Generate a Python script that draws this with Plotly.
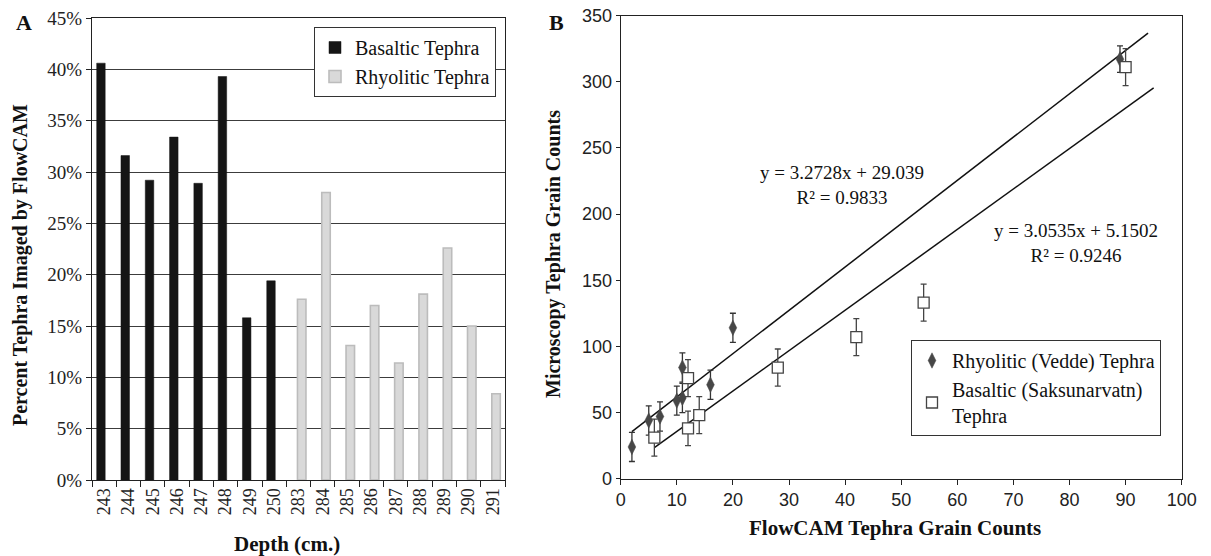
import plotly.graph_objects as go

# ---------------- Panel A data ----------------
depth_all = ["243", "244", "245", "246", "247", "248", "249", "250",
             "283", "284", "285", "286", "287", "288", "289", "290", "291"]
basaltic_depth = ["243", "244", "245", "246", "247", "248", "249", "250"]
basaltic_pct = [40.6, 31.6, 29.2, 33.4, 28.9, 39.3, 15.8, 19.4]
rhyolitic_depth = ["283", "284", "285", "286", "287", "288", "289", "290", "291"]
rhyolitic_pct = [17.6, 28.0, 13.1, 17.0, 11.4, 18.1, 22.6, 15.0, 8.4]
pct_ticks = [0, 5, 10, 15, 20, 25, 30, 35, 40, 45]
pct_labels = ["0%", "5%", "10%", "15%", "20%", "25%", "30%", "35%", "40%", "45%"]

# ---------------- Panel B data ----------------
rhy_flowcam = [2, 5, 7, 10, 11, 11, 16, 20, 89]
rhy_micro = [24, 44, 47, 59, 61, 84, 71, 114, 317]
rhy_err = [11, 11, 11, 11, 11, 11, 11, 11, 10]
bas_flowcam = [6, 12, 12, 14, 28, 42, 54, 90]
bas_micro = [31, 38, 76, 48, 84, 107, 133, 311]
bas_err = [14, 13, 14, 14, 14, 14, 14, 14]
rhy_fit = {"slope": 3.2728, "intercept": 29.039, "x": [2, 94]}
bas_fit = {"slope": 3.0535, "intercept": 5.1502, "x": [6, 95]}
rhy_fit_label = "y = 3.2728x + 29.039<br>R² = 0.9833"
bas_fit_label = "y = 3.0535x + 5.1502<br>R² = 0.9246"

SERIF = "Liberation Serif"
SANS = "Liberation Sans"
OFF = 8                      # page body margin
W, H = 1211 - OFF, 556 - OFF


def px_x(p):
    return (p - OFF) / W


def px_y(p):
    return 1 - (p - OFF) / H


fig = go.Figure()

# Bars (panel A)
fig.add_trace(go.Bar(
    x=basaltic_depth, y=basaltic_pct, name="Basaltic Tephra",
    width=0.35, offset=-0.307,
    marker=dict(color="#151515", line=dict(color="#151515", width=0.5)),
    xaxis="x", yaxis="y", legend="legend"))
fig.add_trace(go.Bar(
    x=rhyolitic_depth, y=rhyolitic_pct, name="Rhyolitic Tephra",
    width=0.35, offset=-0.043,
    marker=dict(color="#d9d9d9", line=dict(color="#bcbcbc", width=1.6)),
    xaxis="x", yaxis="y", legend="legend"))

# Trend lines (panel B)
for fit in (rhy_fit, bas_fit):
    xs = fit["x"]
    ys = [fit["slope"] * v + fit["intercept"] for v in xs]
    fig.add_trace(go.Scatter(
        x=xs, y=ys, mode="lines", line=dict(color="#111", width=1.5),
        showlegend=False, hoverinfo="skip", xaxis="x2", yaxis="y2"))

# Scatter points (panel B)
fig.add_trace(go.Scatter(
    x=rhy_flowcam, y=rhy_micro, mode="markers", name="Rhyolitic (Vedde) Tephra",
    marker=dict(symbol="diamond-tall", size=11, color="#474747",
                line=dict(color="#474747", width=0.5)),
    error_y=dict(type="data", array=rhy_err, color="#333", thickness=1.3, width=3),
    xaxis="x2", yaxis="y2", legend="legend2"))
fig.add_trace(go.Scatter(
    x=bas_flowcam, y=bas_micro, mode="markers", name="Basaltic (Saksunarvatn)<br>Tephra",
    marker=dict(symbol="square", size=11, color="white",
                line=dict(color="#444", width=1.3)),
    error_y=dict(type="data", array=bas_err, color="#444", thickness=1.3, width=3),
    xaxis="x2", yaxis="y2", legend="legend2"))

axis_line = dict(showline=True, linecolor="#222", linewidth=1, mirror=True,
                 ticks="outside", tickcolor="#222", automargin=False,
                 ticklabeloverflow="allow")

fig.update_layout(
    width=W, height=H,
    margin=dict(l=0, r=0, t=0, b=0, pad=0, autoexpand=False),
    paper_bgcolor="white", plot_bgcolor="white",
    barmode="overlay",
    xaxis=dict(domain=[px_x(92), px_x(505)], type="category",
               categoryorder="array", categoryarray=depth_all,
               tickson="boundaries", ticklen=6, tickangle=-90,
               tickfont=dict(family=SERIF, size=18, color="#222"),
               showgrid=False, anchor="y", **axis_line),
    yaxis=dict(domain=[px_y(480), px_y(18)], range=[0, 45],
               tickmode="array", tickvals=pct_ticks, ticktext=pct_labels, ticklen=5,
               tickfont=dict(family=SERIF, size=19, color="#222"),
               showgrid=True, gridcolor="#3c3c3c", gridwidth=1,
               zeroline=False, anchor="x", **axis_line),
    xaxis2=dict(domain=[px_x(620.7), px_x(1181.7)], range=[0, 100],
                dtick=10, ticklen=5,
                tickfont=dict(family=SANS, size=18, color="#222"),
                showgrid=False, zeroline=False, anchor="y2", **axis_line),
    yaxis2=dict(domain=[px_y(478.7), px_y(15.5)], range=[0, 350],
                dtick=50, ticklen=4,
                tickfont=dict(family=SANS, size=18, color="#222"),
                showgrid=False, zeroline=False, anchor="x2", **axis_line),
    legend=dict(x=px_x(314), y=px_y(27), xanchor="left", yanchor="top",
                bgcolor="white", bordercolor="#333", borderwidth=1,
                font=dict(family=SERIF, size=20, color="#111"),
                itemwidth=30, tracegroupgap=0),
    legend2=dict(x=px_x(911), y=px_y(340), xanchor="left", yanchor="top",
                 bgcolor="white", bordercolor="#333", borderwidth=1,
                 font=dict(family=SERIF, size=20, color="#111"),
                 itemwidth=30, tracegroupgap=0),
    showlegend=True,
)


def note(text, x, y, size, angle=0):
    return dict(text=text, x=px_x(x), y=px_y(y), xref="paper", yref="paper",
                xanchor="center", yanchor="middle", textangle=angle,
                showarrow=False, align="center",
                font=dict(family=SERIF, size=size, color="#111"))


ann = [
    note("<b>A</b>", 24, 23, 22),
    note("<b>B</b>", 556, 22, 22),
    note("<b>Percent Tephra Imaged by FlowCAM</b>", 20, 265, 20, -90),
    note("<b>Depth (cm.)</b>", 287, 544, 21),
    note("<b>Microscopy Tephra Grain Counts</b>", 554, 254, 20, -90),
    note("<b>FlowCAM Tephra Grain Counts</b>", 895, 528, 21),
    note(rhy_fit_label, 842, 185, 19),
    note(bas_fit_label, 1076, 243, 19),
]
fig.update_layout(annotations=ann)

fig.write_html("out.html")
